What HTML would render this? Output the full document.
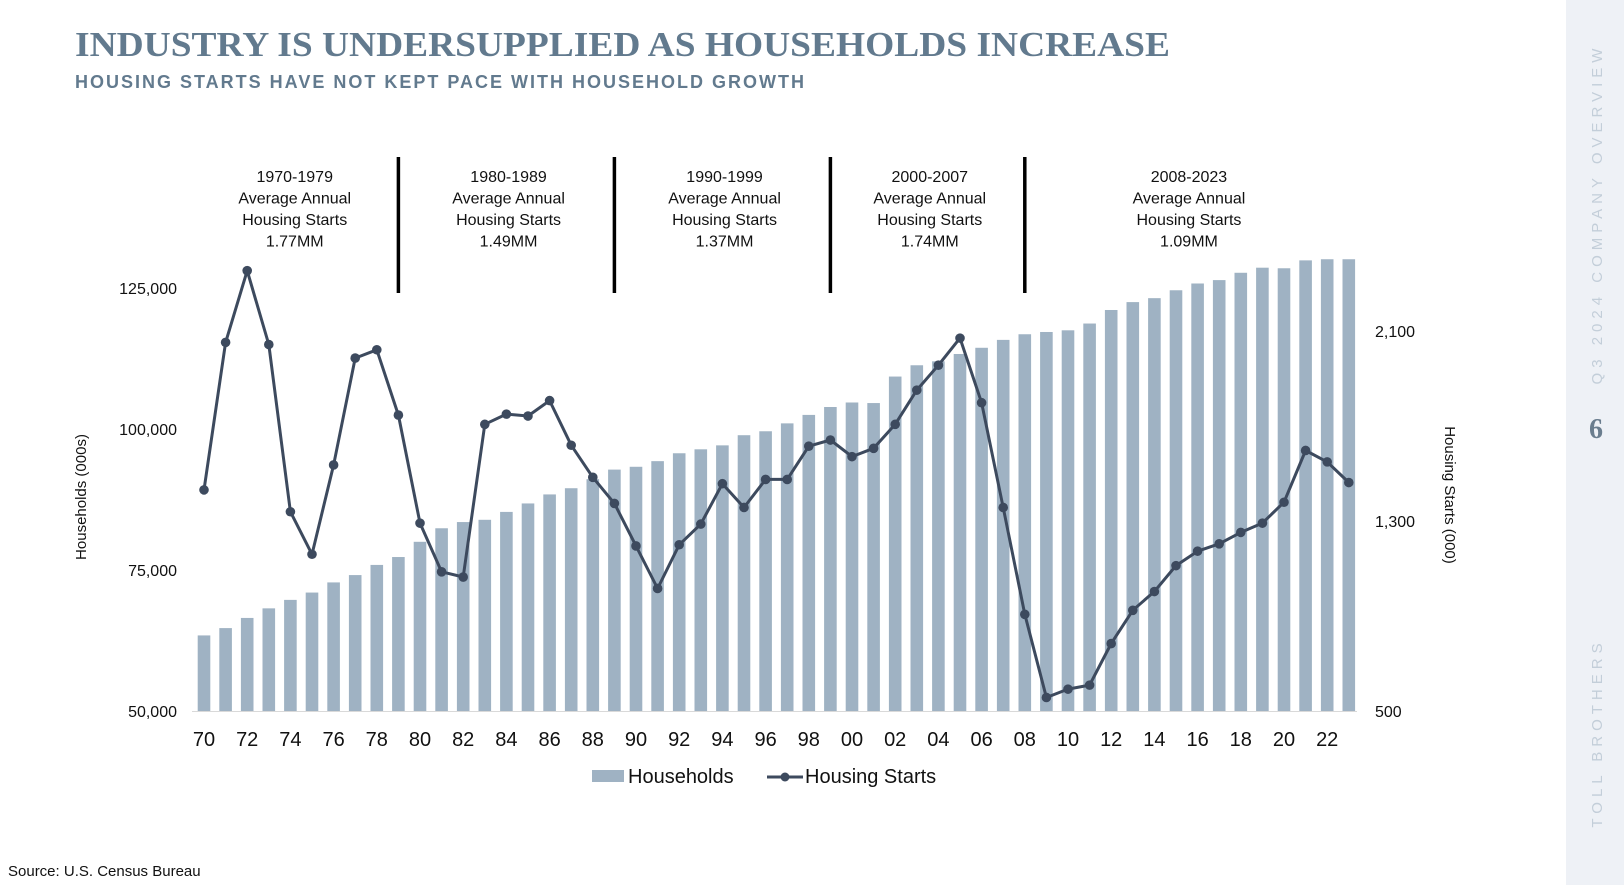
<!DOCTYPE html>
<html><head><meta charset="utf-8"><style>
html,body{margin:0;padding:0;background:#fff;}
svg{display:block;font-family:"Liberation Sans",sans-serif;}
</style></head><body>
<svg id="chart" width="1624" height="885" viewBox="0 0 1624 885">
<rect x="1566" y="0" width="58" height="885" fill="#eef1f6"/>
<text x="1598" y="214" transform="rotate(-90 1598 214)" text-anchor="middle" font-size="15" fill="#c3ced9" letter-spacing="5" dominant-baseline="middle">Q3 2024 COMPANY OVERVIEW</text>
<text x="1596" y="438" text-anchor="middle" font-family="Liberation Serif,serif" font-weight="bold" font-size="28" fill="#6a7d8e">6</text>
<text x="1598" y="733" transform="rotate(-90 1598 733)" text-anchor="middle" font-size="15" fill="#c3ced9" letter-spacing="5" dominant-baseline="middle">TOLL BROTHERS</text>
<text x="75" y="56" font-family="Liberation Serif,serif" font-weight="bold" font-size="35" fill="#627a8e" textLength="1095" lengthAdjust="spacingAndGlyphs">INDUSTRY IS UNDERSUPPLIED AS HOUSEHOLDS INCREASE</text>
<text x="75" y="88" font-size="18" font-weight="bold" fill="#627a8e" textLength="729" lengthAdjust="spacing">HOUSING STARTS HAVE NOT KEPT PACE WITH HOUSEHOLD GROWTH</text>
<g id="periods"></g>
<g id="bars"></g>
<g id="axes"></g>
<g id="line"></g>
<g>
<rect x="592" y="770" width="32" height="12" fill="#9fb2c3"/>
<text x="628" y="783" font-size="20" fill="#111" style="font-weight:500">Households</text>
<line x1="767" y1="777" x2="803" y2="777" stroke="#3d4a5e" stroke-width="3"/>
<circle cx="785" cy="777" r="4.5" fill="#3d4a5e"/>
<text x="805" y="783" font-size="20" fill="#111" style="font-weight:500">Housing Starts</text>
</g>
<text x="8" y="876" font-size="15" fill="#111">Source: U.S. Census Bureau</text>
</svg>
<script>
const years = [];
for (let y = 1970; y <= 2023; y++) years.push(y);
const households = [63.4,64.7,66.5,68.2,69.7,71.0,72.8,74.1,75.9,77.3,80.0,82.4,83.5,83.9,85.3,86.8,88.4,89.5,91.1,92.8,93.3,94.3,95.7,96.4,97.1,98.9,99.6,101.0,102.5,103.9,104.7,104.6,109.3,111.3,112.0,113.3,114.4,115.8,116.8,117.2,117.5,118.7,121.1,122.5,123.2,124.6,125.8,126.4,127.7,128.6,128.5,129.9,130.1,130.1].map(v=>v*1000);
const starts = [1431,2052,2354,2043,1339,1160,1536,1986,2021,1746,1291,1086,1064,1707,1750,1742,1807,1619,1484,1374,1195,1016,1200,1287,1457,1357,1475,1475,1615,1641,1571,1606,1707,1851,1956,2070,1798,1357,907,557,592,609,784,924,1003,1112,1173,1204,1252,1291,1379,1597,1549,1462];
const leftTicks = [50000,75000,100000,125000];
const rightTicks = [500,1300,2100];
const periodLabels = [["1970-1979","1.77MM"],["1980-1989","1.49MM"],["1990-1999","1.37MM"],["2000-2007","1.74MM"],["2008-2023","1.09MM"]];
const periodCenters = [1974.2,1984.1,1994.1,2003.6,2015.6];
const periodBreaks = [1979,1989,1999,2008];

const NS="http://www.w3.org/2000/svg";
const xs = y => 204 + (y-1970)*21.6;
const yl = v => 711 - (v-50000)/25000*141;
const yr = v => 711 - (v-500)/800*190;
function mk(tag, attrs, parent, text){const e=document.createElementNS(NS,tag);for(const k in attrs)e.setAttribute(k,attrs[k]);if(text!==undefined)e.textContent=text;parent.appendChild(e);return e;}
const fmt = v => v.toLocaleString('en-US');

const gp=document.getElementById('periods');
periodBreaks.forEach(b=>{
  const l=mk('line',{x1:xs(b),x2:xs(b),y1:157,y2:293,stroke:'#000','stroke-width':3.5},gp);
  
  
});
periodLabels.forEach((p,i)=>{
  const lines=[p[0],"Average Annual","Housing Starts",p[1]];
  lines.forEach((t,j)=>{
    const e=mk('text',{x:xs(periodCenters[i]),y:182+j*21.5,'text-anchor':'middle','font-size':16,fill:'#111'},gp,t);
    
    
  });
});

const gb=document.getElementById('bars');
households.forEach((v,i)=>{
  const x=xs(years[i]);
  const r=mk('rect',{x:x-6.3,y:yl(v),width:12.6,height:711-yl(v),fill:'#9fb2c3'},gb);
  
  
});

const ga=document.getElementById('axes');
const base=mk('line',{x1:192,x2:1357,y1:711.5,y2:711.5,stroke:'#d9d9d9','stroke-width':1},ga);


leftTicks.forEach(v=>{
  const t=mk('text',{x:177,y:yl(v)+6,'text-anchor':'end','font-size':16,fill:'#111'},ga,fmt(v));
  
  
});
rightTicks.forEach(v=>{
  const t=mk('text',{x:1375,y:yr(v)+6,'font-size':16,fill:'#111'},ga,fmt(v));
  
  
});
years.forEach(y=>{
  if(y%2) return;
  const t=mk('text',{x:xs(y),y:746,'text-anchor':'middle','font-size':20,fill:'#111'},ga,String(y%100).padStart(2,'0'));
  
  
});
const lt=mk('text',{x:86,y:497,transform:'rotate(-90 86 497)','text-anchor':'middle','font-size':15,fill:'#111'},ga,'Households (000s)');


const rt=mk('text',{x:1445,y:495,transform:'rotate(90 1445 495)','text-anchor':'middle','font-size':15,fill:'#111'},ga,'Housing Starts (000)');



const gl=document.getElementById('line');
const pts=starts.map((v,i)=>xs(years[i]).toFixed(1)+','+yr(v).toFixed(1)).join(' ');
const pl=mk('polyline',{points:pts,fill:'none',stroke:'#3d4a5e','stroke-width':3,'stroke-linejoin':'round'},gl);


starts.forEach((v,i)=>{
  const c=mk('circle',{cx:xs(years[i]),cy:yr(v),r:4.8,fill:'#3d4a5e'},gl);
  
  
});
</script>
</body></html>
